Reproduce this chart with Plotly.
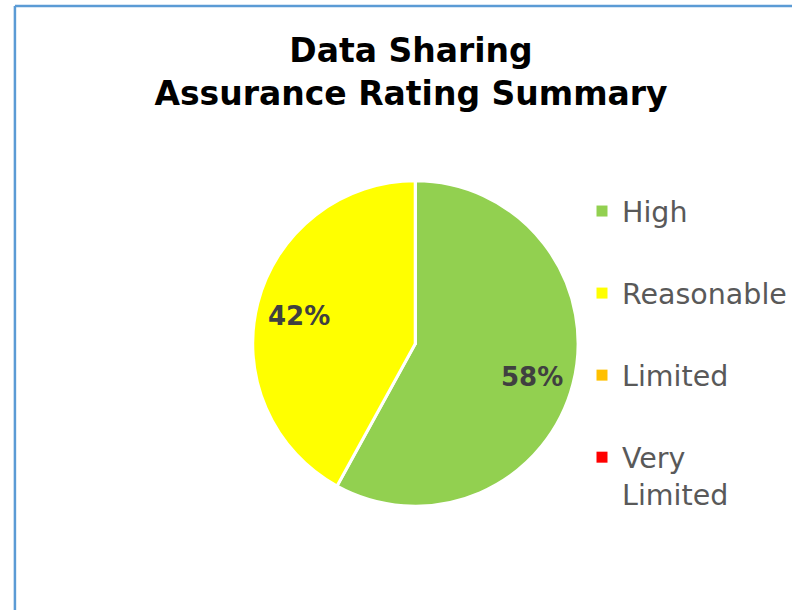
import math
import plotly.graph_objects as go

categories = ["High", "Reasonable", "Limited", "Very Limited"]
legend_names = ["High", "Reasonable", "Limited", "Very<br>Limited"]
values = [58, 42, 0, 0]
colors = ["#92D050", "#FFFF00", "#FFC000", "#FF0000"]

W, H = 792, 610
FONT = "Verdana, DejaVu Sans, sans-serif"

# pie geometry (pixels)
CX, CY, R = 417.5, 343.5, 163.5

fig = go.Figure()
fig.add_trace(go.Pie(
    labels=categories, values=values, sort=False, direction="clockwise",
    rotation=0, marker=dict(colors=colors, line=dict(color="white", width=3)),
    textinfo="none", showlegend=False, hoverinfo="label+percent",
    domain=dict(x=[(CX - R) / W, (CX + R) / W], y=[1 - (CY + R) / H, 1 - (CY - R) / H]),
))

# percentage labels placed at ~0.74 radius along each slice's mid angle
total = sum(values)
annotations = []
cum = 0
for v in values:
    if v > 0:
        mid = (cum + v / 2) / total * 2 * math.pi
        px = CX + 0.74 * R * math.sin(mid)
        py = CY - 0.74 * R * math.cos(mid) + 3
        annotations.append(dict(
            x=px / W, y=1 - py / H, xref="paper", yref="paper", showarrow=False,
            xanchor="center", yanchor="middle",
            text=f"<b>{round(v / total * 100)}%</b>",
            font=dict(family=FONT, size=26, color="#404040"),
        ))
    cum += v

for name, col, cat in zip(legend_names, colors, categories):
    fig.add_trace(go.Scatter(
        x=[None], y=[None], mode="markers", name=name, legendgroup=cat,
        marker=dict(symbol="square", size=11, color=col),
    ))

fig.update_layout(
    width=W, height=H, margin=dict(l=0, r=0, t=0, b=0),
    paper_bgcolor="white", plot_bgcolor="white",
    xaxis=dict(visible=False), yaxis=dict(visible=False),
    title=dict(text="<b>Data Sharing<br>Assurance Rating Summary</b>",
               x=411 / W, xanchor="center", y=1 - 62 / H, yanchor="top",
               font=dict(family=FONT, size=33, color="black")),
    legend=dict(x=585 / W, xanchor="left", y=1 - 186 / H, yanchor="top",
                font=dict(family=FONT, size=28.5, color="#595959"),
                tracegroupgap=42, valign="top", bgcolor="rgba(0,0,0,0)"),
    annotations=annotations,
    shapes=[
        dict(type="line", xref="paper", yref="paper", x0=15 / W, x1=1.02, y0=1 - 6 / H, y1=1 - 6 / H,
             line=dict(color="#5B9BD5", width=2.5)),
        dict(type="line", xref="paper", yref="paper", x0=15 / W, x1=15 / W, y0=1 - 6 / H, y1=-0.02,
             line=dict(color="#5B9BD5", width=2.5)),
    ],
)

fig.write_html("out.html", config={"displayModeBar": False},
               post_script="document.body.style.margin='0px';")
